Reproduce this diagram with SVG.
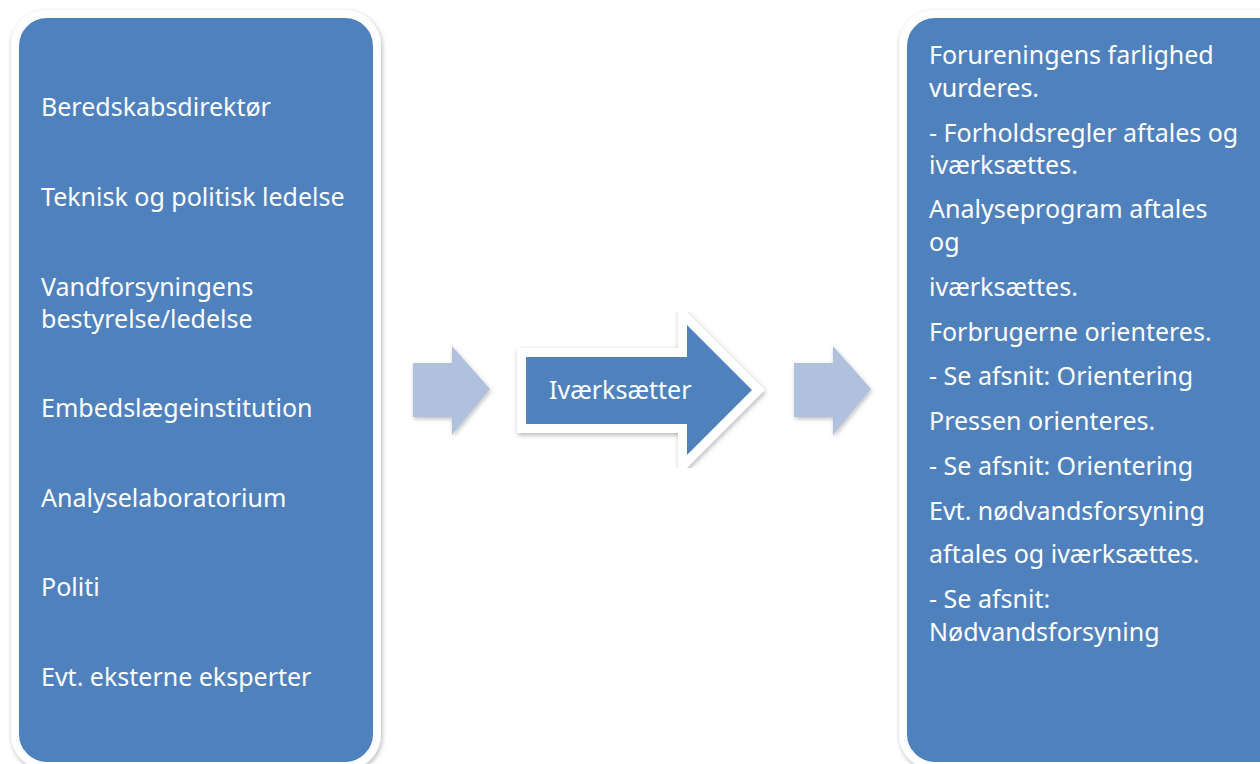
<svg xmlns="http://www.w3.org/2000/svg" width="1260" height="764" viewBox="0 0 1260 764">
<defs>
<filter id="sh" x="-10%" y="-10%" width="120%" height="120%">
<feDropShadow dx="1" dy="2" stdDeviation="2.5" flood-color="#000" flood-opacity="0.3"/>
</filter>
<filter id="shs" x="-20%" y="-20%" width="140%" height="140%">
<feDropShadow dx="1" dy="2" stdDeviation="2" flood-color="#000" flood-opacity="0.25"/>
</filter>
</defs>
<style>
.box{fill:#4F81BD;stroke:#FFFFFF;stroke-width:8;filter:url(#sh)}
.t{font-family:"Noto Sans","Open Sans",sans-serif;font-size:25px;fill:#FFFFFF}
.light{fill:#AFC1DD;filter:url(#shs)}
.big{fill:#4F81BD;stroke:#FFFFFF;stroke-width:18;stroke-linejoin:miter;stroke-miterlimit:10;paint-order:stroke;filter:url(#sh)}
</style>
<rect width="1260" height="764" fill="#FFFFFF"/>
<g id="left-box">
<rect class="box" x="15" y="14" width="362" height="752" rx="32"/>
<text class="t" x="41" y="116">Beredskabsdirektør</text>
<text class="t" x="41" y="206">Teknisk og politisk ledelse</text>
<text class="t" x="41" y="296">Vandforsyningens</text>
<text class="t" x="41" y="328">bestyrelse/ledelse</text>
<text class="t" x="41" y="417">Embedslægeinstitution</text>
<text class="t" x="41" y="507">Analyselaboratorium</text>
<text class="t" x="41" y="596">Politi</text>
<text class="t" x="41" y="686">Evt. eksterne eksperter</text>
</g>
<g id="connectors">
<polygon class="light" points="413,363 452,363 452,346 490,389 452,435 452,417 413,417"/>
<polygon class="light" points="794,363 833,363 833,346 871,389 833,435 833,417 794,417"/>
</g>
<g id="action-arrow">
<polygon class="big" points="526,357 687,357 687,325 752,390 687,455 687,424 526,424"/>
<text class="t" x="549" y="399">Iværksætter</text>
</g>
<g id="right-box">
<rect class="box" x="903" y="14" width="420" height="752" rx="32"/>
<text class="t" x="929" y="64">Forureningens farlighed</text>
<text class="t" x="929" y="97">vurderes.</text>
<text class="t" x="929" y="142">- Forholdsregler aftales og</text>
<text class="t" x="929" y="174">iværksættes.</text>
<text class="t" x="929" y="218">Analyseprogram aftales</text>
<text class="t" x="929" y="251">og</text>
<text class="t" x="929" y="296">iværksættes.</text>
<text class="t" x="929" y="341">Forbrugerne orienteres.</text>
<text class="t" x="929" y="385">- Se afsnit: Orientering</text>
<text class="t" x="929" y="430">Pressen orienteres.</text>
<text class="t" x="929" y="475">- Se afsnit: Orientering</text>
<text class="t" x="929" y="520">Evt. nødvandsforsyning</text>
<text class="t" x="929" y="563">aftales og iværksættes.</text>
<text class="t" x="929" y="608">- Se afsnit:</text>
<text class="t" x="929" y="641">Nødvandsforsyning</text>
</g>
</svg>
